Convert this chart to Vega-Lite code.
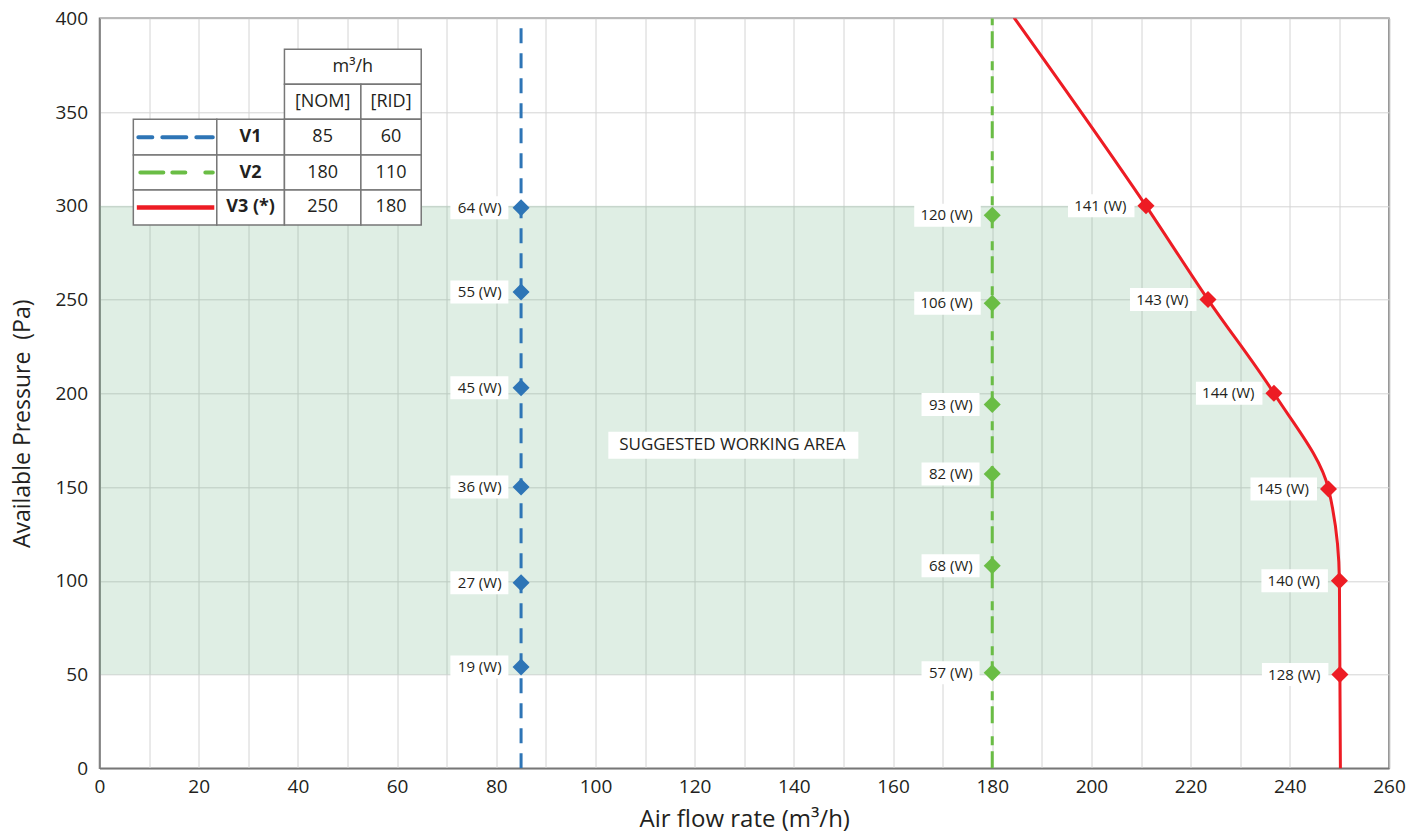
{
  "$schema": "https://vega.github.io/schema/vega-lite/v6.json",
  "width": 1289.5,
  "height": 750,
  "autosize": {"type": "none"},
  "padding": {"left": 99.5, "top": 18.3, "right": 34, "bottom": 65.7},
  "background": "white",
  "config": {
    "font": "Open Sans",
    "view": {"stroke": "#777777", "strokeWidth": 1.5},
    "axis": {
      "gridColor": "#d4d4d4",
      "gridWidth": 1,
      "ticks": false,
      "domainColor": "#777777",
      "domainWidth": 1.5,
      "labelColor": "#231f20",
      "labelFont": "Open Sans",
      "labelFontSize": 19,
      "titleColor": "#231f20",
      "titleFont": "Open Sans",
      "titleFontWeight": "normal",
      "labelOverlap": false,
      "labelFlush": false
    }
  },
  "datasets": {
    "curves": [
      {"series": "V1", "flow": 85, "pressure": 0, "watts": null},
      {"series": "V1", "flow": 85, "pressure": 54, "watts": 19},
      {"series": "V1", "flow": 85, "pressure": 99, "watts": 27},
      {"series": "V1", "flow": 85, "pressure": 150, "watts": 36},
      {"series": "V1", "flow": 85, "pressure": 203, "watts": 45},
      {"series": "V1", "flow": 85, "pressure": 254, "watts": 55},
      {"series": "V1", "flow": 85, "pressure": 299, "watts": 64},
      {"series": "V1", "flow": 85, "pressure": 400, "watts": null},
      {"series": "V2", "flow": 180, "pressure": 0, "watts": null},
      {"series": "V2", "flow": 180, "pressure": 51, "watts": 57},
      {"series": "V2", "flow": 180, "pressure": 108, "watts": 68},
      {"series": "V2", "flow": 180, "pressure": 157, "watts": 82},
      {"series": "V2", "flow": 180, "pressure": 194, "watts": 93},
      {"series": "V2", "flow": 180, "pressure": 248, "watts": 106},
      {"series": "V2", "flow": 180, "pressure": 295, "watts": 120},
      {"series": "V2", "flow": 180, "pressure": 400, "watts": null},
      {"series": "V3", "flow": 250.2, "pressure": 0, "watts": null},
      {"series": "V3", "flow": 250.1, "pressure": 50, "watts": 128},
      {"series": "V3", "flow": 250.0, "pressure": 100, "watts": 140},
      {"series": "V3", "flow": 247.8, "pressure": 149, "watts": 145},
      {"series": "V3", "flow": 236.8, "pressure": 200, "watts": 144},
      {"series": "V3", "flow": 223.5, "pressure": 250, "watts": 143},
      {"series": "V3", "flow": 211, "pressure": 300, "watts": 141},
      {"series": "V3", "flow": 184.5, "pressure": 400, "watts": null}
    ],
    "cells": [
      {"col": "unit", "series": null, "text": "m³/h", "x0": 37.29, "x1": 64.87, "y0": 364.8, "y1": 383.5, "xc": 51.08, "yc": 374.15},
      {"col": "nom", "series": null, "text": "[NOM]", "x0": 37.29, "x1": 52.7, "y0": 346.1, "y1": 364.8, "xc": 44.995, "yc": 355.45},
      {"col": "rid", "series": null, "text": "[RID]", "x0": 52.7, "x1": 64.87, "y0": 346.1, "y1": 364.8, "xc": 58.785, "yc": 355.45},
      {"col": "swatch", "series": "V1", "text": "", "x0": 6.82, "x1": 23.65, "y0": 327.1, "y1": 346.1, "xc": 15.235, "yc": 336.6},
      {"col": "name", "series": "V1", "text": "V1", "x0": 23.65, "x1": 37.29, "y0": 327.1, "y1": 346.1, "xc": 30.47, "yc": 336.6},
      {"col": "nom", "series": "V1", "text": "85", "x0": 37.29, "x1": 52.7, "y0": 327.1, "y1": 346.1, "xc": 44.995, "yc": 336.6},
      {"col": "rid", "series": "V1", "text": "60", "x0": 52.7, "x1": 64.87, "y0": 327.1, "y1": 346.1, "xc": 58.785, "yc": 336.6},
      {"col": "swatch", "series": "V2", "text": "", "x0": 6.82, "x1": 23.65, "y0": 308.4, "y1": 327.1, "xc": 15.235, "yc": 317.75},
      {"col": "name", "series": "V2", "text": "V2", "x0": 23.65, "x1": 37.29, "y0": 308.4, "y1": 327.1, "xc": 30.47, "yc": 317.75},
      {"col": "nom", "series": "V2", "text": "180", "x0": 37.29, "x1": 52.7, "y0": 308.4, "y1": 327.1, "xc": 44.995, "yc": 317.75},
      {"col": "rid", "series": "V2", "text": "110", "x0": 52.7, "x1": 64.87, "y0": 308.4, "y1": 327.1, "xc": 58.785, "yc": 317.75},
      {"col": "swatch", "series": "V3", "text": "", "x0": 6.82, "x1": 23.65, "y0": 289.8, "y1": 308.4, "xc": 15.235, "yc": 299.1},
      {"col": "name", "series": "V3", "text": "V3 (*)", "x0": 23.65, "x1": 37.29, "y0": 289.8, "y1": 308.4, "xc": 30.47, "yc": 299.1},
      {"col": "nom", "series": "V3", "text": "250", "x0": 37.29, "x1": 52.7, "y0": 289.8, "y1": 308.4, "xc": 44.995, "yc": 299.1},
      {"col": "rid", "series": "V3", "text": "180", "x0": 52.7, "x1": 64.87, "y0": 289.8, "y1": 308.4, "xc": 58.785, "yc": 299.1}
    ],
    "note": [
      {"flow": 127.6, "pressure": 172.3, "text": "SUGGESTED WORKING AREA"}
    ]
  },
  "layer": [
    {
      "data": {"name": "curves"},
      "transform": [{"filter": "datum.series === 'V3' && datum.pressure >= 50 && datum.pressure <= 300"}],
      "mark": {"type": "area", "orient": "horizontal", "interpolate": "monotone", "fill": "#5fa878", "fillOpacity": 0.2},
      "encoding": {
        "x": {
          "field": "flow",
          "type": "quantitative",
          "scale": {"domain": [0, 260], "nice": false, "zero": false},
          "axis": {
            "title": "Air flow rate (m³/h)",
            "values": [0, 10, 20, 30, 40, 50, 60, 70, 80, 90, 100, 110, 120, 130, 140, 150, 160, 170, 180, 190, 200, 210, 220, 230, 240, 250, 260],
            "labelExpr": "datum.value % 20 === 0 ? datum.label : ''",
            "labelPadding": 9,
            "grid": true,
            "titleFontSize": 24,
            "titleY": 58.4,
            "titleBaseline": "alphabetic"
          }
        },
        "x2": {"datum": 0},
        "y": {
          "field": "pressure",
          "type": "quantitative",
          "scale": {"domain": [0, 400], "nice": false, "zero": false},
          "axis": {
            "title": "Available Pressure \u00a0(Pa)",
            "values": [0, 50, 100, 150, 200, 250, 300, 350, 400],
            "labelPadding": 12,
            "grid": true,
            "titleFontSize": 23,
            "titleX": -70,
            "titleY": 405,
            "titleBaseline": "alphabetic"
          }
        }
      }
    },
    {
      "data": {"name": "curves"},
      "transform": [{"filter": "datum.series !== 'V3'"}],
      "mark": {"type": "line", "strokeWidth": 3, "strokeCap": "butt", "clip": true},
      "encoding": {
        "x": {"field": "flow", "type": "quantitative"},
        "y": {"field": "pressure", "type": "quantitative"},
        "order": {"field": "pressure", "type": "quantitative"},
        "color": {"field": "series", "type": "nominal", "scale": {"domain": ["V1", "V2", "V3"], "range": ["#2e75b6", "#6abd45", "#ed1c24"]}, "legend": null},
        "strokeDash": {"field": "series", "type": "nominal", "scale": {"domain": ["V1", "V2", "V3"], "range": [[15, 10], [17, 6, 9, 13], [1, 0]]}, "legend": null}
      }
    },
    {
      "data": {"name": "curves"},
      "transform": [{"filter": "datum.series === 'V3'"}],
      "mark": {"type": "area", "orient": "horizontal", "interpolate": "monotone", "fill": "transparent", "stroke": "#ed1c24", "strokeWidth": 3, "strokeJoin": "round", "clip": true},
      "encoding": {
        "x": {"field": "flow", "type": "quantitative"},
        "x2": {"field": "flow"},
        "y": {"field": "pressure", "type": "quantitative"}
      }
    },
    {
      "data": {"name": "curves"},
      "transform": [{"filter": "datum.watts != null && datum.watts < 100"}],
      "mark": {"type": "rect", "fill": "white", "xOffset": -70.7, "x2Offset": -12.7, "yOffset": -11.5, "y2Offset": 11.5},
      "encoding": {
        "x": {"field": "flow", "type": "quantitative"},
        "x2": {"field": "flow"},
        "y": {"field": "pressure", "type": "quantitative"},
        "y2": {"field": "pressure"}
      }
    },
    {
      "data": {"name": "curves"},
      "transform": [{"filter": "datum.watts != null && datum.watts >= 100"}],
      "mark": {"type": "rect", "fill": "white", "xOffset": -78, "x2Offset": -11.5, "yOffset": -11.5, "y2Offset": 11.5},
      "encoding": {
        "x": {"field": "flow", "type": "quantitative"},
        "x2": {"field": "flow"},
        "y": {"field": "pressure", "type": "quantitative"},
        "y2": {"field": "pressure"}
      }
    },
    {
      "data": {"name": "curves"},
      "transform": [{"filter": "datum.watts != null"}],
      "mark": {"type": "text", "align": "right", "baseline": "middle", "dx": -19.5, "fontSize": 15, "fill": "#231f20", "text": {"expr": "datum.watts + ' (W)'"}},
      "encoding": {
        "x": {"field": "flow", "type": "quantitative"},
        "y": {"field": "pressure", "type": "quantitative"}
      }
    },
    {
      "data": {"name": "curves"},
      "transform": [{"filter": "datum.watts != null"}],
      "mark": {"type": "point", "shape": "diamond", "filled": true, "size": 290, "opacity": 1},
      "encoding": {
        "x": {"field": "flow", "type": "quantitative"},
        "y": {"field": "pressure", "type": "quantitative"},
        "color": {"field": "series", "type": "nominal", "legend": null}
      }
    },
    {
      "data": {"name": "note"},
      "mark": {"type": "rect", "fill": "white", "xOffset": -124, "x2Offset": 126, "yOffset": -13.5, "y2Offset": 13.5},
      "encoding": {
        "x": {"field": "flow", "type": "quantitative"},
        "x2": {"field": "flow"},
        "y": {"field": "pressure", "type": "quantitative"},
        "y2": {"field": "pressure"}
      }
    },
    {
      "data": {"name": "note"},
      "mark": {"type": "text", "align": "center", "baseline": "middle", "fontSize": 17, "fill": "#231f20"},
      "encoding": {
        "x": {"field": "flow", "type": "quantitative"},
        "y": {"field": "pressure", "type": "quantitative"},
        "text": {"field": "text"}
      }
    },
    {
      "data": {"name": "cells"},
      "mark": {"type": "rect", "fill": "white", "stroke": "#777777", "strokeWidth": 1.5},
      "encoding": {
        "x": {"field": "x0", "type": "quantitative"},
        "x2": {"field": "x1"},
        "y": {"field": "y0", "type": "quantitative"},
        "y2": {"field": "y1"}
      }
    },
    {
      "data": {"name": "cells"},
      "transform": [{"filter": "datum.col !== 'swatch' && datum.col !== 'name'"}],
      "mark": {"type": "text", "align": "center", "baseline": "middle", "fontSize": 18, "fill": "#231f20"},
      "encoding": {
        "x": {"field": "xc", "type": "quantitative"},
        "y": {"field": "yc", "type": "quantitative"},
        "text": {"field": "text"}
      }
    },
    {
      "data": {"name": "cells"},
      "transform": [{"filter": "datum.col === 'name'"}],
      "mark": {"type": "text", "align": "center", "baseline": "middle", "fontSize": 18, "fontWeight": "bold", "fill": "#231f20"},
      "encoding": {
        "x": {"field": "xc", "type": "quantitative"},
        "y": {"field": "yc", "type": "quantitative"},
        "text": {"field": "text"}
      }
    },
    {
      "data": {"name": "cells"},
      "transform": [{"filter": "datum.col === 'swatch' && datum.series === 'V1'"}],
      "mark": {"type": "rule", "stroke": "#2e75b6", "strokeWidth": 4, "strokeCap": "round", "strokeDash": [24, 10], "strokeDashOffset": 10, "xOffset": 5, "x2Offset": -4},
      "encoding": {
        "x": {"field": "x0", "type": "quantitative"},
        "x2": {"field": "x1"},
        "y": {"field": "yc", "type": "quantitative"}
      }
    },
    {
      "data": {"name": "cells"},
      "transform": [{"filter": "datum.col === 'swatch' && datum.series === 'V2'"}],
      "mark": {"type": "rule", "stroke": "#6abd45", "strokeWidth": 4, "strokeCap": "round", "strokeDash": [23, 9, 13, 20], "xOffset": 7, "x2Offset": -4},
      "encoding": {
        "x": {"field": "x0", "type": "quantitative"},
        "x2": {"field": "x1"},
        "y": {"field": "yc", "type": "quantitative"}
      }
    },
    {
      "data": {"name": "cells"},
      "transform": [{"filter": "datum.col === 'swatch' && datum.series === 'V3'"}],
      "mark": {"type": "rule", "stroke": "#ed1c24", "strokeWidth": 4.5, "strokeCap": "butt", "xOffset": 3.5, "x2Offset": -2.5},
      "encoding": {
        "x": {"field": "x0", "type": "quantitative"},
        "x2": {"field": "x1"},
        "y": {"field": "yc", "type": "quantitative"}
      }
    }
  ]
}
